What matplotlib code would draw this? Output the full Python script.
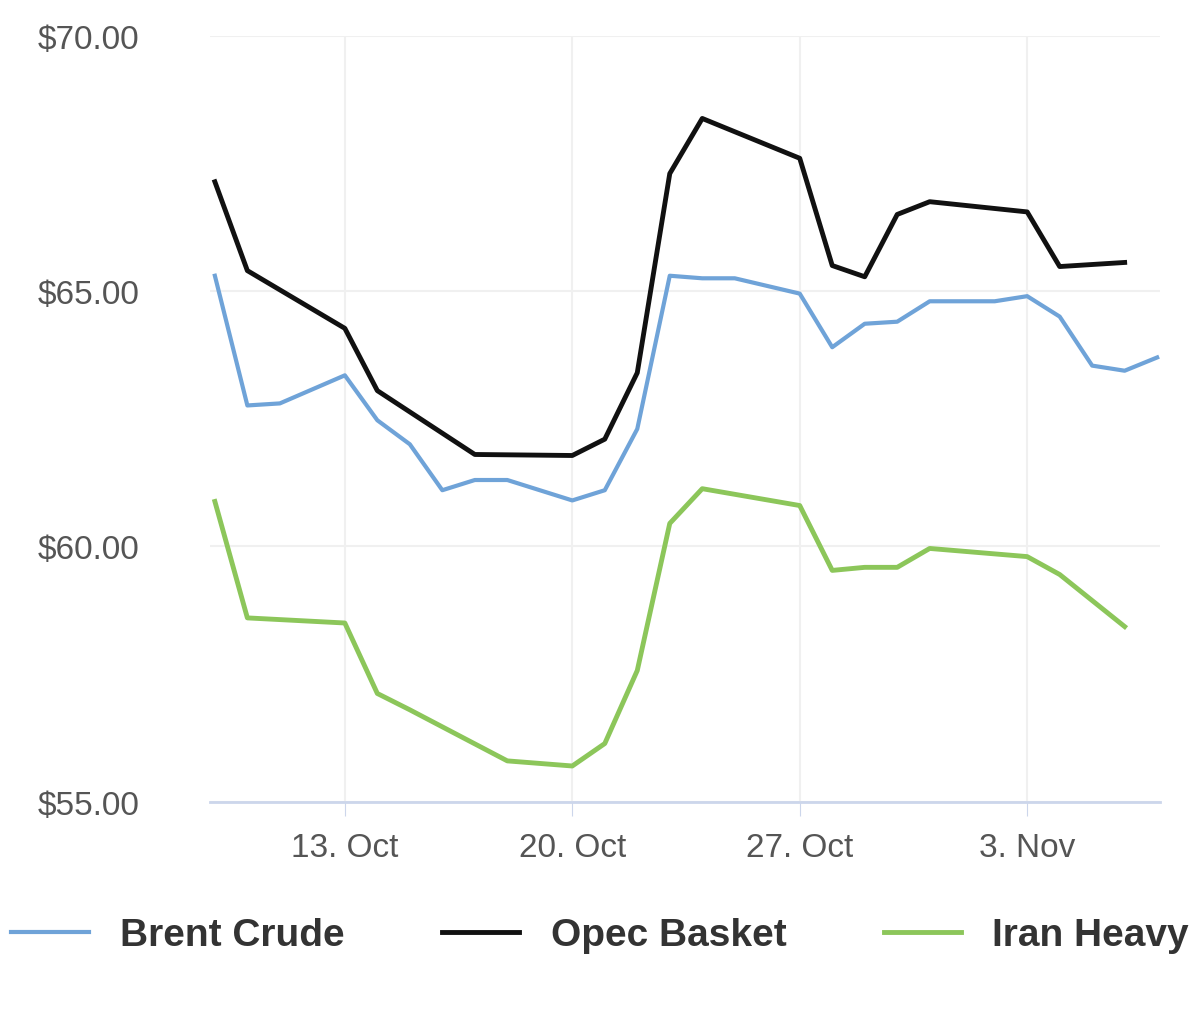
import numpy as np
from matplotlib import pyplot as plt

plt.rcParams['font.family'] = ['Liberation Sans', 'DejaVu Sans']

# days counted in October (3 Nov = 34)
brent_days = [9, 10, 11, 13, 14, 15, 16, 17, 18, 20, 21, 22, 23, 24, 25, 27, 28, 29, 30, 31, 33, 34, 35, 36, 37, 38]
brent = [65.3, 62.76, 62.8, 63.35, 62.47, 62.0, 61.1, 61.3, 61.3, 60.9, 61.1, 62.3, 65.3, 65.25, 65.25, 64.95,
         63.9, 64.36, 64.4, 64.8, 64.8, 64.9, 64.5, 63.54, 63.44, 63.7]

opec_days = [9, 10, 13, 14, 17, 20, 21, 22, 23, 24, 27, 28, 29, 30, 31, 34, 35, 37]
opec = [67.14, 65.4, 64.27, 63.05, 61.8, 61.78, 62.1, 63.4, 67.3, 68.38, 67.6, 65.5, 65.28, 66.5, 66.75,
        66.55, 65.48, 65.56]

iran_days = [9, 10, 13, 14, 15, 18, 20, 21, 22, 23, 24, 27, 28, 29, 30, 31, 34, 35, 37]
iran = [60.88, 58.6, 58.5, 57.12, 56.8, 55.8, 55.7, 56.14, 57.57, 60.45, 61.13, 60.8, 59.53, 59.59, 59.59,
        59.96, 59.8, 59.45, 58.43]

tick_days = [13, 20, 27, 34]
tick_labels = ['13. Oct', '20. Oct', '27. Oct', '3. Nov']

fig = plt.figure(figsize=(12, 10.2), dpi=100)
ax = fig.add_axes([0.175, 0.213, 0.792, 0.751])

ax.plot(brent_days, brent, color='#6fa3d8', lw=3, label='Brent Crude')
ax.plot(opec_days, opec, color='#111111', lw=3.5, label='Opec Basket')
ax.plot(iran_days, iran, color='#8cc65a', lw=3.5, label='Iran Heavy')

ax.set_xlim(8.85, 38.1)
ax.set_ylim(55, 70)
ax.set_yticks([55, 60, 65, 70])
ax.set_yticklabels(['$55.00', '$60.00', '$65.00', '$70.00'])
ax.set_xticks(tick_days)
ax.set_xticklabels(tick_labels)
ax.tick_params(axis='y', length=0, labelsize=24, labelcolor='#555555', pad=124)
ax.tick_params(axis='x', length=10, color='#ccd6eb', labelsize=24, labelcolor='#555555', pad=12)
for lbl in ax.get_yticklabels():
    lbl.set_horizontalalignment('left')
ax.grid(True, color='#f0f0f0', lw=1.5)
for s in ['top', 'right', 'left']:
    ax.spines[s].set_visible(False)
ax.spines['bottom'].set_color('#ccd6eb')
ax.spines['bottom'].set_linewidth(2)

fig.legend(loc='lower center', bbox_to_anchor=(0.5, 0.03), ncol=3, frameon=False,
           prop={'size': 28, 'weight': 'bold'}, handlelength=2, columnspacing=2.5, labelcolor='#333333')
fig.savefig('out.png')
